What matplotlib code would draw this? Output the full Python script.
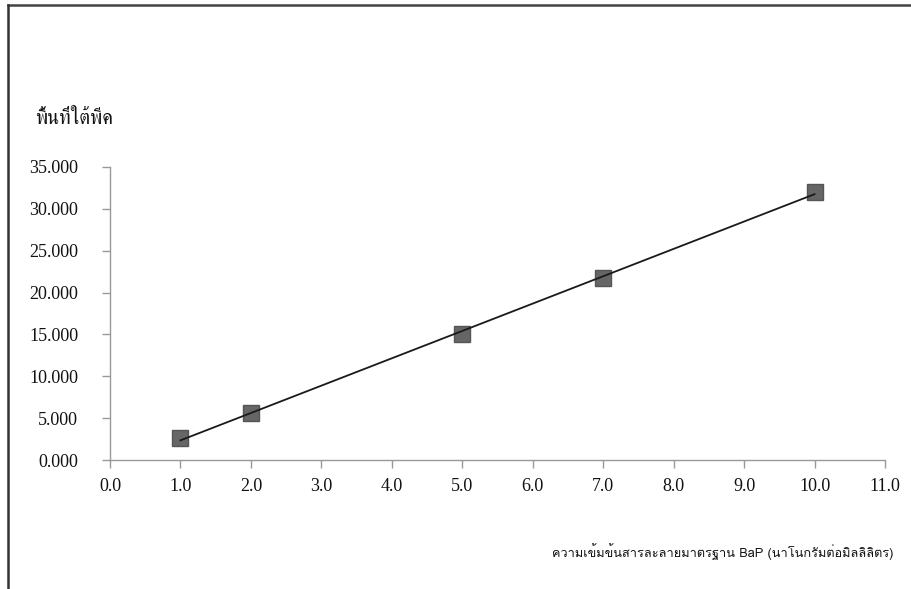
import matplotlib
matplotlib.use("Agg")
import matplotlib.pyplot as plt
from matplotlib.lines import Line2D
import numpy as np

# data
conc = [1.0, 2.0, 5.0, 7.0, 10.0]
area = [2.63, 5.60, 15.05, 21.75, 32.05]
xticks = [0, 1, 2, 3, 4, 5, 6, 7, 8, 9, 10, 11]
yticks = [0, 5, 10, 15, 20, 25, 30, 35]
ylabel = "พื้นที่ใต้พีค"
xlabel = "ความเข้มข้นสารละลายมาตรฐาน BaP (นาโนกรัมต่อมิลลิลิตร)"

fig = plt.figure(figsize=(9.12, 5.89), dpi=100)
ax = fig.add_axes([0.1206, 0.219, 0.8498, 0.4975])

# linear trendline
m, b = np.polyfit(conc, area, 1)
xs = np.array([conc[0], conc[-1]])
ax.plot(xs, m * xs + b, color='#1a1a1a', lw=1.3, zorder=3)
ax.plot(conc, area, 's', color='#666666', mec='#555555', ms=11, zorder=2)

ax.set_xlim(0, 11)
ax.set_ylim(0, 35)
ax.set_xticks(xticks)
ax.set_xticklabels([f"{v:.1f}" for v in xticks])
ax.set_yticks(yticks)
ax.set_yticklabels([f"{v:.3f}" for v in yticks])

for s in ['top', 'right']:
    ax.spines[s].set_visible(False)
for s in ['left', 'bottom']:
    ax.spines[s].set_color('#999999')
    ax.spines[s].set_linewidth(1.0)
ax.tick_params(axis='both', color='#999999', length=6, width=1.0,
               labelsize=13, labelcolor='#111111')
ax.tick_params(axis='x', pad=7)
ax.tick_params(axis='y', pad=17)
for lab in ax.get_xticklabels() + ax.get_yticklabels():
    lab.set_family(['Liberation Serif'])

fig.text(35 / 912, 1 - 118 / 589, ylabel, family=['FreeSerif', 'DejaVu Serif'],
         fontsize=14.5, ha='left', va='center', color='#111111')
fig.text(893 / 912, 1 - 552 / 589, xlabel, family=['Loma', 'DejaVu Sans'],
         fontsize=9.2, ha='right', va='center', color='#111111')

# outer frame (top and left edges)
fig.add_artist(Line2D([8.5 / 912, 1], [1 - 5 / 589, 1 - 5 / 589],
                      transform=fig.transFigure, color='#444444', lw=1.8))
fig.add_artist(Line2D([8.5 / 912, 8.5 / 912], [0, 1 - 5 / 589],
                      transform=fig.transFigure, color='#333333', lw=1.8))

fig.savefig("out.png")
